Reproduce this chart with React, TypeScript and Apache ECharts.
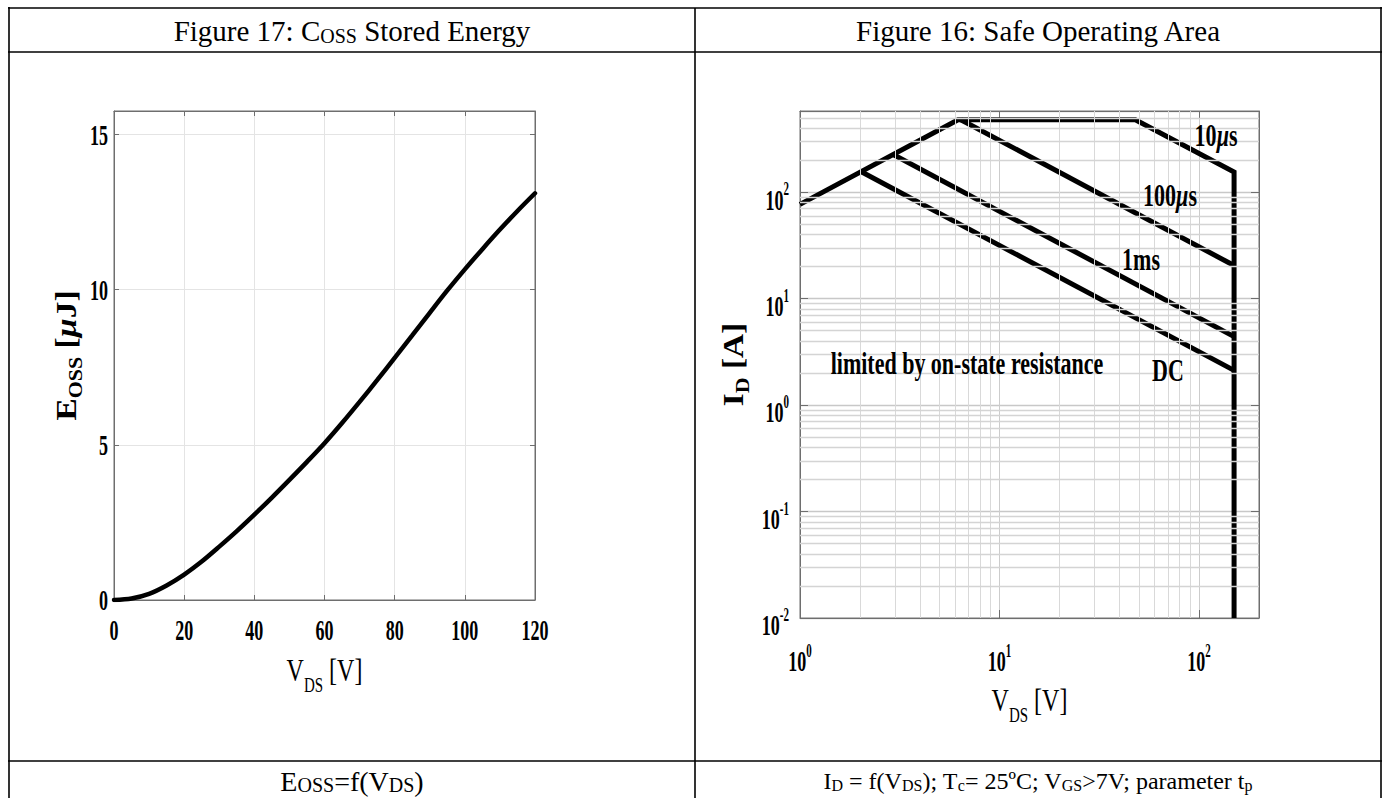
import React, { useEffect, useRef } from 'react';
import * as echarts from 'echarts';

const SERIF = "'Liberation Serif', 'Times New Roman', Times, serif";

// ---------- Figure 17: Coss stored energy ----------
const eossVds = [0, 5, 10, 15, 20, 25, 30, 35, 40, 45, 50, 55, 60, 65, 70, 75, 80, 85, 90, 95, 100, 105, 110, 115, 120];
const eossEnergy = [0, 0.05, 0.2, 0.47, 0.82, 1.24, 1.72, 2.22, 2.75, 3.3, 3.87, 4.45, 5.05, 5.7, 6.38, 7.08, 7.8, 8.52, 9.25, 9.97, 10.65, 11.3, 11.93, 12.53, 13.1];
const eossXTicks = [0, 20, 40, 60, 80, 100, 120];
const eossYTicks = [0, 5, 10, 15];

// ---------- Figure 16: Safe operating area ----------
const soaBoundaryV = [1, 6.2, 48, 150, 150];
const soaBoundaryI = [77, 480, 480, 155, 0.01];
const soa100usV = [6.4, 150];
const soa100usI = [480, 20.5];
const soa1msV = [2.93, 150];
const soa1msI = [226, 4.4];
const soaDcV = [2.03, 150];
const soaDcI = [156, 2.12];
const soaXDecades = [0, 1, 2];
const soaYDecades = [-2, -1, 0, 1, 2];
const minorSteps = [2, 3, 4, 5, 6, 7, 8, 9];

const zip = (a: number[], b: number[]) => a.map((v, i) => [v, b[i]]);

const AXIS_GRAY = '#6e6e6e';

function buildOption(): any {
  const soaXMin = 1, soaXMax = 200, soaYMin = 0.01, soaYMax = 580;
  const xMinor: number[] = [];
  soaXDecades.slice(0, -1).forEach((e) => minorSteps.forEach((m) => xMinor.push(m * Math.pow(10, e))));
  const yMinor: number[] = [];
  soaYDecades.forEach((e) =>
    minorSteps.forEach((m) => {
      const v = m * Math.pow(10, e);
      if (v < soaYMax) yMinor.push(v);
    })
  );

  const line = { show: true, onZero: false, lineStyle: { color: AXIS_GRAY, width: 1 } };
  const tick = (len: number) => ({ show: true, inside: true, length: len, lineStyle: { color: AXIS_GRAY, width: 1 } });

  return {
    animation: false,
    backgroundColor: '#ffffff',
    grid: [
      { left: 114, top: 111, width: 421, height: 489, show: true, borderColor: AXIS_GRAY, borderWidth: 1, backgroundColor: 'transparent' },
      { left: 800, top: 111, width: 459, height: 507, show: true, borderColor: AXIS_GRAY, borderWidth: 1, backgroundColor: 'transparent' },
    ],
    xAxis: [
      { type: 'value', gridIndex: 0, min: 0, max: 120, interval: 20, axisLine: line, axisTick: tick(5), axisLabel: { show: false }, splitLine: { show: true, lineStyle: { color: '#e4e4e4', width: 1 } } },
      { type: 'value', gridIndex: 0, position: 'top', min: 0, max: 120, interval: 20, axisLine: line, axisTick: tick(5), axisLabel: { show: false }, splitLine: { show: false } },
      { type: 'log', logBase: 10, gridIndex: 1, min: soaXMin, max: soaXMax, axisLine: line, axisTick: tick(8), axisLabel: { show: false }, splitLine: { show: true, lineStyle: { color: '#cccccc', width: 1 } } },
      { type: 'log', logBase: 10, gridIndex: 1, position: 'top', min: soaXMin, max: soaXMax, axisLine: line, axisTick: tick(8), axisLabel: { show: false }, splitLine: { show: false } },
    ],
    yAxis: [
      { type: 'value', gridIndex: 0, min: 0, max: 15.75, interval: 5, axisLine: line, axisTick: tick(5), axisLabel: { show: false }, splitLine: { show: true, lineStyle: { color: '#e4e4e4', width: 1 } } },
      { type: 'value', gridIndex: 0, position: 'right', min: 0, max: 15.75, interval: 5, axisLine: line, axisTick: tick(5), axisLabel: { show: false }, splitLine: { show: false } },
      { type: 'log', logBase: 10, gridIndex: 1, min: soaYMin, max: soaYMax, axisLine: line, axisTick: tick(8), axisLabel: { show: false }, splitLine: { show: true, lineStyle: { color: '#c8c8c8', width: 1.3 } } },
      { type: 'log', logBase: 10, gridIndex: 1, position: 'right', min: soaYMin, max: soaYMax, axisLine: line, axisTick: tick(8), axisLabel: { show: false }, splitLine: { show: false } },
    ],
    series: [
      {
        name: 'Eoss',
        type: 'line',
        xAxisIndex: 0,
        yAxisIndex: 0,
        data: zip(eossVds, eossEnergy),
        symbol: 'none',
        smooth: 0.3,
        silent: true,
        lineStyle: { color: '#000', width: 4.5, cap: 'round' },
        z: 3,
      },
      {
        name: 'minor grid x',
        type: 'line',
        xAxisIndex: 2,
        yAxisIndex: 2,
        data: [],
        z: 1,
        silent: true,
        markLine: {
          silent: true,
          animation: false,
          symbol: ['none', 'none'],
          label: { show: false },
          emphasis: { disabled: true },
          lineStyle: { color: '#d9d9d9', width: 1, type: 'solid' },
          data: xMinor.map((v) => ({ xAxis: v })),
        },
      },
      {
        name: 'minor grid y',
        type: 'line',
        xAxisIndex: 2,
        yAxisIndex: 2,
        data: [],
        z: 1,
        silent: true,
        markLine: {
          silent: true,
          animation: false,
          symbol: ['none', 'none'],
          label: { show: false },
          emphasis: { disabled: true },
          lineStyle: { color: '#d4d4d4', width: 1.3, type: 'solid' },
          data: yMinor.map((v) => ({ yAxis: v })),
        },
      },
      ...[
        ['boundary', zip(soaBoundaryV, soaBoundaryI)],
        ['100us', zip(soa100usV, soa100usI)],
        ['1ms', zip(soa1msV, soa1msI)],
        ['DC', zip(soaDcV, soaDcI)],
      ].map(([name, data]) => ({
        name,
        type: 'line',
        xAxisIndex: 2,
        yAxisIndex: 2,
        data,
        symbol: 'none',
        silent: true,
        z: 3,
        lineStyle: { color: '#000', width: 5, join: 'miter', cap: 'butt' },
      })),
    ],
  };
}

const tok = (size: number, weight: string = 'bold', extra: any = {}) => {
  const lh = extra.lineHeight ?? size;
  return {
    fontFamily: SERIF,
    fontSize: size,
    fontWeight: weight,
    fill: '#000',
    textFill: '#000',
    ...extra,
    lineHeight: lh,
    textLineHeight: lh,
  };
};
// superscript: top aligned; its small block height pushes it up
const supTok = (size: number, weight = 'bold', h = 6) =>
  tok(size, weight, { lineHeight: h, height: h, verticalAlign: 'top', textVerticalAlign: 'top' });
// subscript: bottom aligned; its small block height pushes it down
const subTok = (size: number, weight = 'bold', h = 1) =>
  tok(size, weight, { lineHeight: h, height: h, verticalAlign: 'bottom', textVerticalAlign: 'bottom' });

function T(x: number, y: number, text: string, rich: any, o: any = {}) {
  const align = o.align || 'center';
  const va = o.vAlign || 'middle';
  return {
    type: 'text',
    x,
    y,
    silent: true,
    z: 50,
    scaleX: o.scaleX ?? 1,
    scaleY: o.scaleY ?? 1,
    rotation: o.rotation ?? 0,
    style: {
      legacy: false,
      text,
      rich,
      align,
      textAlign: align,
      verticalAlign: va,
      textVerticalAlign: va,
      fill: '#000',
    },
  };
}

function buildGraphic(chart: any): any[] {
  const X = (i: number, v: number) => chart.convertToPixel({ xAxisIndex: i }, v) as number;
  const Y = (i: number, v: number) => chart.convertToPixel({ yAxisIndex: i }, v) as number;
  const els: any[] = [];

  // table frame
  const ln = (x1: number, y1: number, x2: number, y2: number) => ({
    type: 'line',
    silent: true,
    z: 100,
    shape: { x1, y1, x2, y2 },
    style: { stroke: '#000', lineWidth: 1.6 },
  });
  els.push(ln(8, 8, 1382, 8), ln(8, 52, 1382, 52), ln(8, 761, 1382, 761), ln(9, 7, 9, 798), ln(1381, 7, 1381, 798), ln(695, 8, 695, 798));

  // headers and captions
  const small = (s: number) => tok(s, 'normal', { lineHeight: s, height: s, verticalAlign: 'bottom', textVerticalAlign: 'bottom' });
  const hdr = { a: tok(29, 'normal'), s: small(20) };
  const cap = { a: tok(28, 'normal'), s: small(20) };
  const cap2 = { a: tok(24, 'normal'), s: small(16) };
  els.push(T(352, 31, '{a|Figure 17: C}{s|OSS}{a| Stored Energy}', hdr));
  els.push(T(1038, 31, '{a|Figure 16: Safe Operating Area}', hdr));
  els.push(T(352, 781, '{a|E}{s|OSS}{a|=f(V}{s|DS}{a|)}', cap));
  els.push(T(1038, 781, '{a|I}{s|D}{a| = f(V}{s|DS}{a|); T}{s|c}{a|= 25ºC; V}{s|GS}{a|>7V; parameter t}{s|p}', cap2));

  const tickRich = { t: tok(18), s: supTok(11) };
  const TS = 1.65;

  // Figure 17 ticks
  const e17Bottom = Y(0, 0);
  const e17Left = X(0, 0);
  eossXTicks.forEach((v) => els.push(T(X(0, v), e17Bottom + 30, `{t|${v}}`, tickRich, { scaleY: TS })));
  eossYTicks.forEach((v) => els.push(T(e17Left - 6, Y(0, v), `{t|${v}}`, tickRich, { align: 'right', scaleY: TS })));

  // Figure 17 axis names
  const e17Right = X(0, 120);
  const e17Top = Y(0, 15.75);
  els.push(
    T((e17Left + e17Right) / 2, e17Bottom + 70, '{v|V}{d|DS}{v| [V]}', { v: tok(24, 'normal'), d: subTok(15, 'normal', 1) }, { scaleY: 1.35 })
  );
  els.push(
    T(66, (e17Top + e17Bottom) / 2, '{e|E}{s|OSS}{e| [}{m|µ}{e|J]}', { e: tok(29), s: subTok(19, 'bold', 11), m: tok(29, 'bold', { fontStyle: 'italic' }) }, { rotation: Math.PI / 2, scaleX: 1.15 })
  );

  // Figure 16 ticks
  const soaBottom = Y(2, 0.01);
  const soaLeft = X(2, 1);
  const soaRight = X(2, 200);
  const soaTop = Y(2, 580);
  soaXDecades.forEach((e) => els.push(T(X(2, Math.pow(10, e)), soaBottom + 43, `{t|10}{s|${e}}`, tickRich, { scaleY: TS })));
  soaYDecades.forEach((e) => els.push(T(soaLeft - 11, Y(2, Math.pow(10, e)) + 7, `{t|10}{s|${e}}`, tickRich, { align: 'right', scaleY: TS })));

  // Figure 16 axis names
  els.push(
    T((soaLeft + soaRight) / 2, soaBottom + 82, '{v|V}{d|DS}{v| [V]}', { v: tok(24, 'normal'), d: subTok(15, 'normal', 1) }, { scaleY: 1.35 })
  );
  els.push(
    T(733, (soaTop + soaBottom) / 2, '{e|I}{s|D}{e| [A]}', { e: tok(29), s: subTok(19, 'bold', 11) }, { rotation: Math.PI / 2, scaleX: 1.15 })
  );

  // Figure 16 annotations
  const ann = { b: tok(22), m: tok(22, 'bold', { fontStyle: 'italic' }) };
  const AS = 1.45;
  els.push(T(1216, 136, '{b|10}{m|µ}{b|s}', ann, { scaleY: AS }));
  els.push(T(1170, 196, '{b|100}{m|µ}{b|s}', ann, { scaleY: AS }));
  els.push(T(1141, 260, '{b|1ms}', ann, { scaleY: AS }));
  els.push(T(1168, 371, '{b|DC}', ann, { scaleY: AS }));
  els.push(T(967, 364, '{b|limited by on-state resistance}', ann, { scaleY: AS }));

  return els;
}

export default function App() {
  const ref = useRef<HTMLDivElement>(null);
  useEffect(() => {
    const el = ref.current;
    if (!el) return;
    const chart = echarts.init(el, null, { renderer: 'svg' });
    chart.setOption(buildOption());
    chart.setOption({ graphic: { elements: buildGraphic(chart) } });
    return () => chart.dispose();
  }, []);
  return (
    <div
      ref={ref}
      style={{ position: 'fixed', left: 0, top: 0, width: 1391, height: 798, background: '#ffffff' }}
    />
  );
}
